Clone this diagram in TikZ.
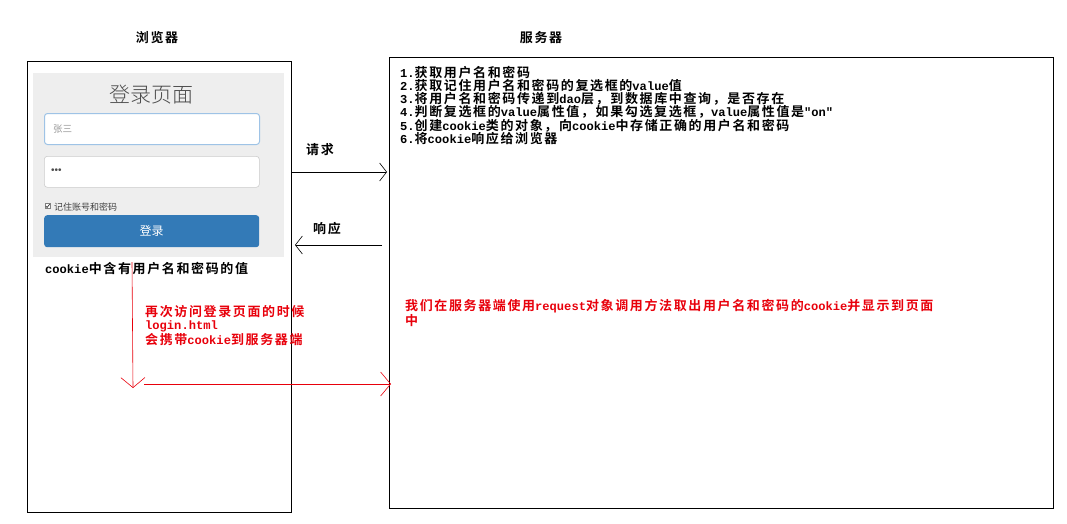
\documentclass[tikz,border=0pt]{standalone}
\usepackage{fontspec}
\newfontfamily\cjk{Noto Sans CJK SC}
\newfontfamily\cjkb{Noto Sans CJK SC Bold}[LetterSpace=12.5]
\newfontfamily\cjkl{Noto Sans CJK SC Light}
\newfontfamily\monob{Liberation Mono Bold}
\newfontfamily\dotsfont{Liberation Sans}
\newcommand\latn[1]{{\monob\fontsize{12.1}{13}\selectfont #1}}
\usetikzlibrary{arrows.meta}
\definecolor{panelgray}{HTML}{EEEEEE}
\definecolor{inputborder}{HTML}{CCCCCC}
\definecolor{focusborder}{HTML}{9EC3E6}
\definecolor{btnblue}{HTML}{337AB7}
\definecolor{redtxt}{HTML}{E8000B}
\definecolor{placeholder}{HTML}{999999}
\tikzset{
  frame/.style={draw=black, line width=0.8pt, anchor=north west, inner sep=0pt},
  lbl/.style={font=\cjkb\fontsize{13}{13}\selectfont, inner sep=0pt},
  note/.style={font=\cjkb\fontsize{13}{13}\selectfont, align=left, inner sep=0pt, anchor=north west},
  flow/.style={line width=0.6pt, -{Straight Barb[length=7pt,width=18pt,line width=0.6pt]}},
  redflow/.style={draw=redtxt, line width=0.6pt, -{Straight Barb[length=10pt,width=24pt,line width=0.6pt]}},
  inputbox/.style={draw=inputborder, fill=white, rounded corners=3pt, minimum width=215pt, minimum height=31pt, anchor=north west, inner sep=0pt, line width=0.6pt}
}
\begin{document}
\begin{tikzpicture}[x=1pt,y=-1pt]
\useasboundingbox (0,0) rectangle (1067,523);
% titles
\node[lbl] (blbl) at (157,38) {浏览器};
\node[lbl] (slbl) at (541,38) {服务器};
% frames
\node[frame, minimum width=264pt, minimum height=451pt] (browser) at (27,61) {};
\node[frame, minimum width=664pt, minimum height=451pt] (server) at (389,57) {};
% login panel
\node[fill=panelgray, anchor=north west, minimum width=251pt, minimum height=184pt, inner sep=0pt] (panel) at (33,73) {};
\node[font=\cjkl\fontsize{21}{22}\selectfont, text=black!70, inner sep=0pt] (ptitle) at (151,95) {登录页面};
\node[inputbox, draw=focusborder, line width=1pt] (user) at (44,113) {};
\node[font=\cjk\fontsize{9.5}{10}\selectfont, text=placeholder, anchor=west, inner sep=0pt] (usertxt) at (53,129) {张三};
\node[inputbox] (pwd) at (44,156) {};
\node[font=\dotsfont\fontsize{10}{10}\selectfont, text=black!70, anchor=west, inner sep=0pt] (pwdtxt) at (51,171.5) {•••};
\node[draw=black!50, fill=white, minimum size=5pt, inner sep=0pt] (chk) at (47.5,206) {};
\draw[black!80, line width=0.7pt] (chk.west) ++(1,0) -- ++(1.3,1.5) -- ++(2.5,-3.3);
\node[font=\cjk\fontsize{9}{10}\selectfont, text=black!75, anchor=west, inner sep=0pt] (chktxt) at (54,207) {记住账号和密码};
\node[fill=btnblue, rounded corners=3pt, anchor=north west, minimum width=215pt, minimum height=32pt, inner sep=0pt] (btn) at (44,215) {};
\node[font=\cjk\fontsize{12}{12}\selectfont, text=white, inner sep=0pt] (btntxt) at (btn.center) {登录};
\node[note, anchor=west] (cookie) at (45,269) {\latn{cookie}中含有用户名和密码的值};
% server steps
\node[note] (steps) at (400,66) {\latn{1.}获取用户名和密码\\\latn{2.}获取记住用户名和密码的复选框的\latn{value}值\\\latn{3.}将用户名和密码传递到\latn{dao}层，到数据库中查询，是否存在\\\latn{4.}判断复选框的\latn{value}属性值，如果勾选复选框，\latn{value}属性值是\latn{"on"}\\\latn{5.}创建\latn{cookie}类的对象，向\latn{cookie}中存储正确的用户名和密码\\\latn{6.}将\latn{cookie}响应给浏览器};
% request / response
\node[lbl] (req) at (320,150) {请求};
\node[lbl] (resp) at (327,229) {响应};
\coordinate (rqs) at (browser.east |- 0,172);
\coordinate (rqe) at (387,172);
\draw[flow] (rqs) -- (rqe);
\coordinate (rss) at (382,245);
\coordinate (rse) at (295,245);
\draw[flow] (rss) -- (rse);
% red flow
\coordinate (r1) at (132,262);
\coordinate (r2) at (133,388);
\draw[redflow] (r1) -- (r2);
\coordinate (r3) at (144,384);
\coordinate (r4) at (391,384);
\draw[redflow] (r3) -- (r4);
\node[note, text=redtxt] (again) at (145,305) {再次访问登录页面的时候\\\latn{login.html}\\会携带\latn{cookie}到服务器端};
\node[note, text=redtxt] (show) at (405,299) {我们在服务器端使用\latn{request}对象调用方法取出用户名和密码的\latn{cookie}并显示到页面\\中};
\end{tikzpicture}
\end{document}
